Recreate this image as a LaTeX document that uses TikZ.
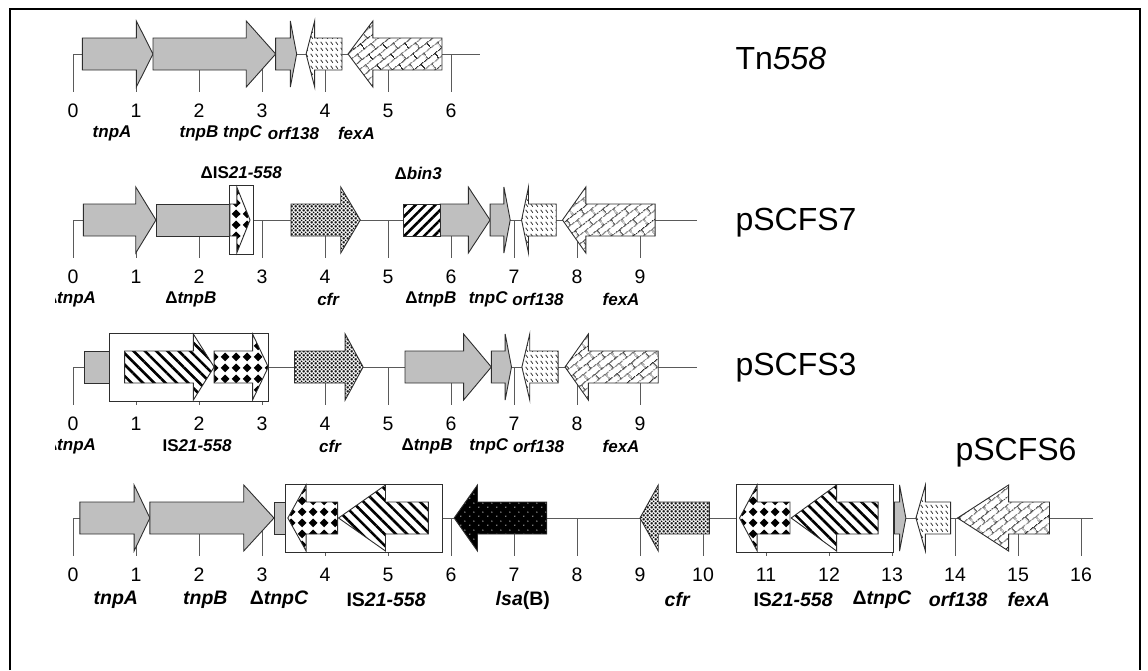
\documentclass[tikz,border=0pt]{standalone}
\usepackage{fontspec}
\setmainfont{Liberation Sans}
\usepackage{tikz}
\usetikzlibrary{patterns,patterns.meta}
\definecolor{genegray}{HTML}{BFBFBF}
\definecolor{edgegray}{HTML}{2E2E2E}
\definecolor{axisgray}{HTML}{5A5A5A}

% fill patterns of the gene arrows
\tikzdeclarepattern{
  name=cfrdots, type=uncolored,
  bounding box={(0pt,0pt) and (4pt,4pt)}, tile size={(4pt,4pt)},
  code={\foreach \p in {(0pt,0pt),(4pt,0pt),(0pt,4pt),(4pt,4pt),(2pt,2pt)}
    {\fill \p circle (1.1pt);}}
}
\tikzdeclarepattern{
  name=isdiamonds, type=uncolored,
  bounding box={(0pt,0pt) and (11pt,11pt)}, tile size={(11pt,11pt)},
  code={\fill (5.5pt,0.8pt) -- (10.2pt,5.5pt) -- (5.5pt,10.2pt) -- (0.8pt,5.5pt) -- cycle;}
}
\tikzdeclarepattern{
  name=orfdashes, type=uncolored,
  bounding box={(0pt,0pt) and (5pt,6pt)}, tile size={(5pt,6pt)},
  code={\draw[line width=0.9pt] (0.8pt,4.8pt) -- (3.4pt,1.4pt);}
}
\tikzdeclarepattern{
  name=fexbricks, type=uncolored,
  bounding box={(0pt,0pt) and (18pt,14pt)}, tile size={(18pt,14pt)},
  tile transformation={rotate=38},
  code={\draw[line width=1pt] (0pt,3.5pt) -- (18pt,3.5pt) (0pt,10.5pt) -- (18pt,10.5pt)
    (4.5pt,3.5pt) -- (4.5pt,10.5pt) (13.5pt,10.5pt) -- (13.5pt,14pt) (13.5pt,0pt) -- (13.5pt,3.5pt);}
}
\tikzdeclarepattern{
  name=lsadots, type=uncolored,
  bounding box={(0pt,0pt) and (9pt,9pt)}, tile size={(9pt,9pt)},
  code={\fill (2pt,2pt) circle (0.7pt); \fill (6.5pt,6.5pt) circle (0.7pt);}
}

% right-pointing gene: style, box start, head base, tip
\newcommand{\rgene}[4]{\draw[#1] (#2,-16) -- (#3,-16) -- (#3,-33) -- (#4,0) -- (#3,33) -- (#3,16) -- (#2,16) -- cycle;}
% left-pointing gene: style, tip, head base, box end
\newcommand{\lgene}[4]{\draw[#1] (#2,0) -- (#3,-33) -- (#3,-16) -- (#4,-16) -- (#4,16) -- (#3,16) -- (#3,33) -- cycle;}
\newcommand{\gbox}[3]{\draw[#1] (#2,-16) rectangle (#3,16);}
% backbone with kb ticks: last tick, line end, row name
\newcommand{\kbruler}[3]{%
  \draw[axisline] (0,0) -- (#2,0);
  \foreach \k in {0,...,#1}{%
    \draw[axisline] (\k,0) -- (\k,38);
    \node[num] (#3-n\k) at (\k,57) {\k};
  }%
}

\begin{document}
\begin{tikzpicture}[x=1pt, y=-1pt,
  gene/.style={draw=edgegray, line width=0.9pt, line join=miter},
  grayg/.style={gene, fill=genegray},
  cfrg/.style={gene, preaction={fill=white}, pattern=cfrdots},
  orfg/.style={gene, preaction={fill=white}, pattern=orfdashes, pattern color=edgegray},
  fexg/.style={gene, preaction={fill=white}, pattern=fexbricks, pattern color=edgegray},
  isdiam/.style={gene, preaction={fill=white}, pattern=isdiamonds},
  ishatch/.style={gene, preaction={fill=white}, pattern={Lines[angle=-45,distance=8pt,line width=2.6pt]}},
  binhatch/.style={gene, preaction={fill=white}, pattern={Lines[angle=45,distance=7pt,line width=2.6pt]}},
  lsag/.style={gene, preaction={fill=black}, pattern=lsadots, pattern color=white},
  isframe/.style={draw=edgegray, line width=0.9pt, fill=white},
  axisline/.style={draw=axisgray, line width=0.9pt},
  num/.style={font=\fontsize{19.5}{21}\selectfont},
  lbl/.style={font=\fontsize{17}{19}\selectfont\bfseries\itshape},
  lblb/.style={font=\fontsize{19.5}{21}\selectfont\bfseries\itshape},
  title/.style={anchor=west, font=\fontsize{32}{36}\selectfont}
]
\useasboundingbox (0,0) rectangle (1148,670);
\draw[line width=1.6pt] (10,670) -- (10,9) -- (1140,9) -- (1140,670);

% Tn558
\begin{scope}[xshift=73pt, yshift=-54pt, x=63pt]
  \kbruler{6}{6.455}{tn}
  \rgene{grayg}{0.148}{1.005}{1.27}
  \rgene{grayg}{1.27}{2.75}{3.217}
  \rgene{grayg}{3.217}{3.45}{3.55}
  \lgene{orfg}{3.70}{3.836}{4.27}
  \lgene{fexg}{4.365}{4.76}{5.857}
  \node[lbl] (tn-tnpA) at (0.62,79) {tnpA};
  \node[lbl] (tn-tnpB) at (2.0,79) {tnpB};
  \node[lbl] (tn-tnpC) at (2.69,79) {tnpC};
  \node[lbl] (tn-orf) at (3.5,79) {orf138};
  \node[lbl] (tn-fexA) at (4.5,79) {fexA};
\end{scope}
\node[title] (tn558) at (732,58) {Tn\textit{558}};

% pSCFS7
\begin{scope}[xshift=73pt, yshift=-220pt, x=63pt]
  \kbruler{9}{9.9}{s7}
  \rgene{grayg}{0.164}{0.996}{1.317}
  \gbox{grayg}{1.317}{2.49}
  \draw[isframe] (2.49,-35) rectangle (2.87,34);
  \rgene{isdiam}{2.49}{2.6}{2.81}
  \rgene{cfrg}{3.46}{4.25}{4.56}
  \rgene{grayg}{5.825}{6.275}{6.62}
  \gbox{binhatch}{5.243}{5.825}
  \rgene{grayg}{6.62}{6.84}{6.94}
  \lgene{orfg}{7.12}{7.23}{7.67}
  \lgene{fexg}{7.77}{8.14}{9.24}
  \node[lbl] (s7-dIS) at (2.67,-47) {{\upshape Δ}{\upshape IS}21-558};
  \node[lbl] (s7-bin) at (5.48,-47) {{\upshape Δ}bin3};
  \begin{scope}
    \clip (-0.27,60) rectangle (1,100);
    \node[lbl] (s7-tnpA) at (-0.04,79) {{\upshape Δ}tnpA};
  \end{scope}
  \node[lbl] (s7-tnpB) at (1.87,79) {{\upshape Δ}tnpB};
  \node[lbl] (s7-cfr) at (4.05,79) {cfr};
  \node[lbl] (s7-tnpB2) at (5.68,79) {{\upshape Δ}tnpB};
  \node[lbl] (s7-tnpC) at (6.59,79) {tnpC};
  \node[lbl] (s7-orf) at (7.38,79) {orf138};
  \node[lbl] (s7-fexA) at (8.70,79) {fexA};
\end{scope}
\node[title] (pscfs7) at (732,223) {pSCFS7};

% pSCFS3
\begin{scope}[xshift=73pt, yshift=-367pt, x=63pt]
  \kbruler{9}{9.9}{s3}
  \gbox{grayg}{0.178}{0.584}
  \draw[isframe] (0.584,-34) rectangle (3.11,34);
  \rgene{ishatch}{0.82}{1.91}{2.24}
  \rgene{isdiam}{2.24}{2.85}{3.10}
  \rgene{cfrg}{3.516}{4.32}{4.605}
  \rgene{grayg}{5.27}{6.2}{6.64}
  \rgene{grayg}{6.64}{6.86}{6.96}
  \lgene{orfg}{7.125}{7.25}{7.70}
  \lgene{fexg}{7.81}{8.18}{9.29}
  \begin{scope}
    \clip (-0.27,60) rectangle (1,100);
    \node[lbl] (s3-tnpA) at (-0.04,79) {{\upshape Δ}tnpA};
  \end{scope}
  \node[lbl] (s3-IS) at (1.97,79) {{\upshape IS}21-558};
  \node[lbl] (s3-cfr) at (4.08,79) {cfr};
  \node[lbl] (s3-tnpB) at (5.62,79) {{\upshape Δ}tnpB};
  \node[lbl] (s3-tnpC) at (6.60,79) {tnpC};
  \node[lbl] (s3-orf) at (7.39,79) {orf138};
  \node[lbl] (s3-fexA) at (8.70,79) {fexA};
\end{scope}
\node[title] (pscfs3) at (732,368) {pSCFS3};

% pSCFS6
\begin{scope}[xshift=73pt, yshift=-518pt, x=63pt]
  \kbruler{16}{16.19}{s6}
  \rgene{grayg}{0.11}{0.97}{1.22}
  \rgene{grayg}{1.22}{2.71}{3.19}
  \gbox{grayg}{3.19}{3.38}
  \draw[isframe] (3.38,-34) rectangle (5.87,34);
  \lgene{isdiam}{3.41}{3.70}{4.20}
  \lgene{ishatch}{4.215}{4.96}{5.64}
  \lgene{lsag}{6.05}{6.42}{7.52}
  \lgene{cfrg}{9.0}{9.29}{10.1}
  \draw[isframe] (10.53,-34) rectangle (13.03,34);
  \lgene{isdiam}{10.58}{10.86}{11.38}
  \lgene{ishatch}{11.40}{12.12}{12.78}
  \rgene{grayg}{13.04}{13.12}{13.22}
  \lgene{orfg}{13.38}{13.53}{13.93}
  \lgene{fexg}{14.04}{14.85}{15.50}
  \node[lblb] (s6-tnpA) at (0.68,82) {tnpA};
  \node[lblb] (s6-tnpB) at (2.10,82) {tnpB};
  \node[lblb] (s6-tnpC) at (3.27,82) {{\upshape Δ}tnpC};
  \node[lblb] (s6-IS) at (4.97,82) {{\upshape IS}21-558};
  \node[lblb] (s6-lsa) at (7.14,82) {lsa{\upshape (B)}};
  \node[lblb] (s6-cfr) at (9.59,82) {cfr};
  \node[lblb] (s6-IS2) at (11.43,82) {{\upshape IS}21-558};
  \node[lblb] (s6-tnpC2) at (12.84,82) {{\upshape Δ}tnpC};
  \node[lblb] (s6-orf) at (14.05,82) {orf138};
  \node[lblb] (s6-fexA) at (15.17,82) {fexA};
\end{scope}
\node[title] (pscfs6) at (952,453) {pSCFS6};
\end{tikzpicture}
\end{document}
